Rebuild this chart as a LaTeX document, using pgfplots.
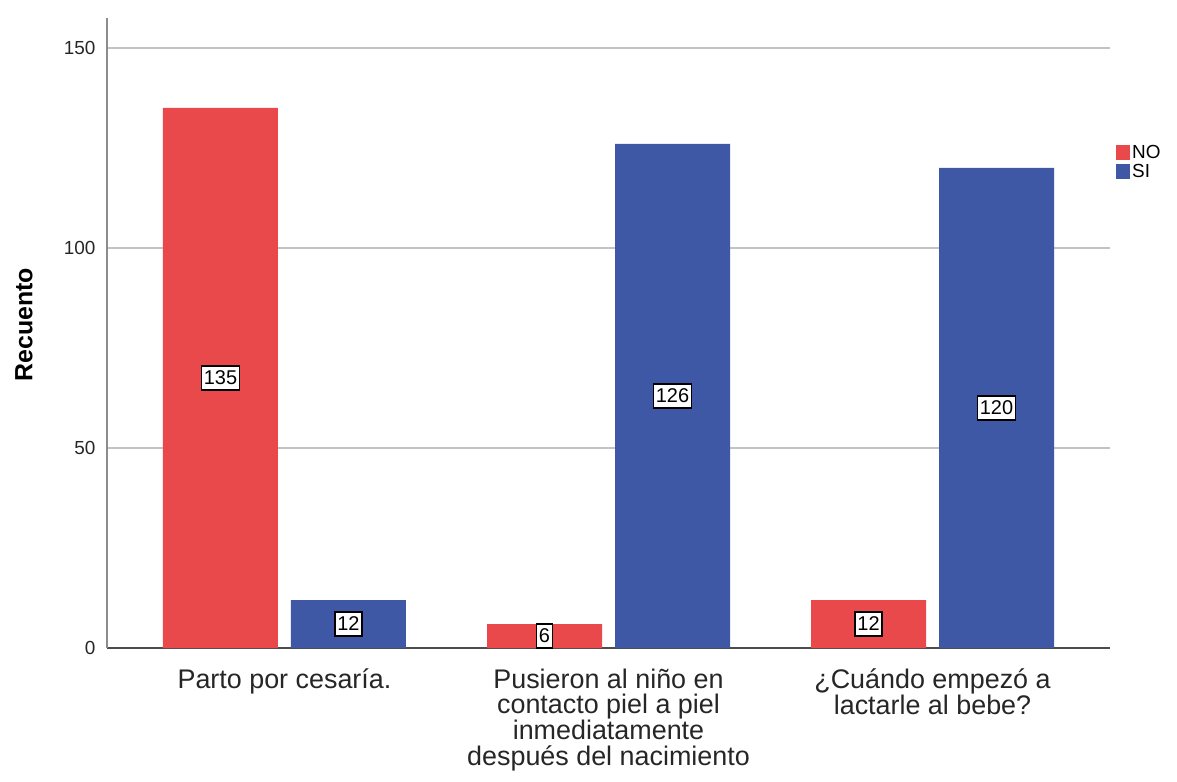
\documentclass[border=0pt]{standalone}
\usepackage{fontspec}
\setmainfont{Liberation Sans}
\usepackage{pgfplots}
\pgfplotsset{compat=1.18}
\definecolor{cno}{RGB}{233,73,74}
\definecolor{csi}{RGB}{62,88,166}
\definecolor{gridc}{RGB}{195,195,195}
\begin{document}
\begin{tikzpicture}
\path[use as bounding box] (-107bp,-134bp) rectangle (1070bp,648bp);
\begin{axis}[
  at={(0,0)}, anchor=south west,
  scale only axis, width=1003bp, height=630bp,
  ybar, bar width=115bp,
  xmin=-0.5478, xmax=2.5478,
  ymin=0, ymax=157.5,
  ytick={0,50,100,150},
  xtick={0,1,2},
  xticklabels={{Parto por cesaría.},{Pusieron al niño en\\contacto piel a piel\\inmediatamente\\después del nacimiento},{¿Cuándo empezó a\\lactarle al bebe?}},
  xticklabel style={align=center, font=\fontsize{27}{26}\selectfont, text=black!85, yshift=-17bp},
  yticklabel style={font=\fontsize{19}{22}\selectfont, text=black!85, xshift=-8bp},
  /pgf/number format/assume math mode=true,
  major tick length=0pt,
  ymajorgrids, grid style={gridc, line width=1.2bp},
  axis x line*=bottom, axis y line*=left,
  x axis line style={draw=black!70, line width=1.2bp, -},
  y axis line style={draw=black!45, line width=1.5bp, -},
  ylabel={\bfseries Recuento},
  every axis y label/.style={at={(axis description cs:-0.0828,0.513)}, rotate=90, anchor=center, font=\fontsize{25}{28}\selectfont},
  legend style={at={(axis description cs:1.006,0.8016)}, anchor=north west, draw=none, fill=none, font=\fontsize{19}{20}\selectfont, row sep=0bp, inner sep=0pt, legend cell align=left},
  legend image code/.code={\fill[#1] (0bp,-7.5bp) rectangle (14bp,7.5bp);},
  nodes near coords,
  visualization depends on={rawy \as \ry},
  every node near coord/.append style={anchor=center, yshift={-2bp*\ry}, fill=white, draw=black, line width=1.6bp, inner xsep=2.5bp, inner ysep=5bp, font=\fontsize{20}{22}\selectfont, text=black, /pgf/number format/assume math mode=true},
]
\addplot[fill=cno, draw=none, bar shift=-64bp] coordinates {(0,135) (1,6) (2,12)};
\addplot[fill=csi, draw=none, bar shift=64bp] coordinates {(0,12) (1,126) (2,120)};
\legend{NO,SI}
\end{axis}
\end{tikzpicture}
\end{document}
